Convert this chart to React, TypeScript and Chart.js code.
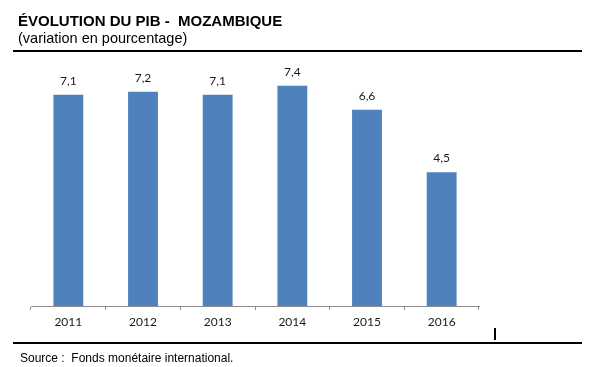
import React, { useEffect, useRef } from "react";
import { Chart, registerables } from "chart.js";

Chart.register(...registerables);

const categories = ["2011", "2012", "2013", "2014", "2015", "2016"];
const values = [7.1, 7.2, 7.1, 7.4, 6.6, 4.5];
const valueLabels = ["7,1", "7,2", "7,1", "7,4", "6,6", "4,5"];
const titleText = "ÉVOLUTION DU PIB -  MOZAMBIQUE";
const subtitleText = "(variation en pourcentage)";
const sourceText = "Source :  Fonds monétaire international.";

const W = 606;
const H = 367;

const valueLabelPlugin = {
  id: "valueLabels",
  afterDatasetsDraw(chart: any) {
    const ctx = chart.ctx;
    const meta = chart.getDatasetMeta(0);
    ctx.save();
    ctx.font = "12px Lato";
    ctx.fillStyle = "#1a1a1a";
    ctx.textAlign = "center";
    ctx.textBaseline = "middle";
    meta.data.forEach((bar: any, i: number) => {
      ctx.fillText(valueLabels[i], bar.x, bar.y - 14);
    });
    ctx.restore();
  },
};

export default function App() {
  const ref = useRef<HTMLCanvasElement | null>(null);

  useEffect(() => {
    if (!ref.current) return;
    const chart = new Chart(ref.current, {
      type: "bar",
      data: {
        labels: categories,
        datasets: [
          {
            data: values,
            backgroundColor: "#4F81BD",
            borderWidth: 0,
            barPercentage: 0.4,
            categoryPercentage: 1,
          },
        ],
      },
      options: {
        responsive: false,
        animation: false,
        layout: { padding: { left: 31, right: W - 479, top: 68, bottom: H - 306 - 30 } },
        plugins: { legend: { display: false }, tooltip: { enabled: false }, title: { display: false } },
        scales: {
          x: {
            afterFit: (scale: any) => {
              scale.height = 30;
            },
            grid: {
              display: true,
              drawOnChartArea: false,
              drawTicks: true,
              tickLength: 4,
              color: "#8C8C8C",
              offset: true,
            },
            border: { display: true, color: "#8C8C8C", width: 1 },
            ticks: { color: "#1a1a1a", font: { family: "Lato", size: 12 }, padding: 5 },
          },
          y: {
            display: false,
            min: 0,
            max: 8,
          },
        },
      },
      plugins: [valueLabelPlugin],
    });
    return () => chart.destroy();
  }, []);

  return (
    <div style={{ position: "absolute", left: 0, top: 0, width: W, height: H, background: "#fff", fontFamily: "'Liberation Sans', Arial, sans-serif" }}>
      <canvas ref={ref} width={W} height={H} style={{ position: "absolute", left: 0, top: 0, width: W, height: H }} />
      <div style={{ position: "absolute", left: 18, top: 12, fontSize: 15, fontWeight: "bold", whiteSpace: "pre", color: "#000", lineHeight: "17px" }}>{titleText}</div>
      <div style={{ position: "absolute", left: 18, top: 30, fontSize: 14.5, whiteSpace: "pre", color: "#000", lineHeight: "17px" }}>{subtitleText}</div>
      <div style={{ position: "absolute", left: 13, top: 50, width: 569, height: 2, background: "#000" }} />
      <div style={{ position: "absolute", left: 494, top: 328, width: 2, height: 12, background: "#000" }} />
      <div style={{ position: "absolute", left: 13, top: 342, width: 569, height: 2, background: "#000" }} />
      <div style={{ position: "absolute", left: 20, top: 351, fontSize: 12, whiteSpace: "pre", color: "#000", lineHeight: "14px" }}>{sourceText}</div>
    </div>
  );
}
